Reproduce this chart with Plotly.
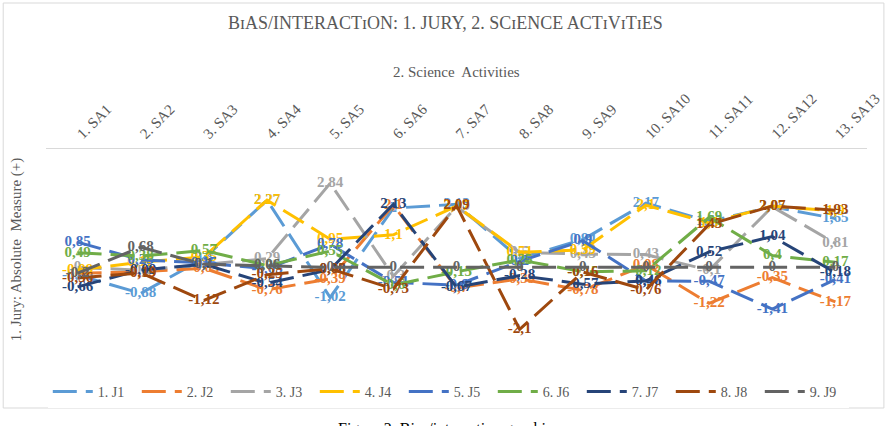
import plotly.graph_objects as go

categories = ["1. SA1", "2. SA2", "3. SA3", "4. SA4", "5. SA5", "6. SA6", "7. SA7",
              "8. SA8", "9. SA9", "10. SA10", "11. SA11", "12. SA12", "13. SA13"]

j1 = [-0.26, -0.88, 0.30, 2.27, -1.02, 2.00, 2.13, 0.30, 0.94, 2.17, 1.55, 2.05, 1.65]
j2 = [-0.20, -0.15, -0.03, -0.76, -0.39, 2.10, -0.70, -0.39, -0.78, 0.08, -1.22, -0.35, -1.17]
j3 = [0.00, -0.10, 0.10, 0.29, 2.84, -0.30, 2.05, 0.50, 0.45, 0.43, -0.10, 2.05, 0.81]
j4 = [-0.09, 0.17, 0.35, 2.27, 0.95, 1.10, 2.07, 0.51, 0.59, 2.10, 1.50, 2.07, 1.90]
j5 = [0.85, 0.25, 0.15, -0.05, 0.78, -0.51, -0.60, 0.20, 0.90, -0.46, -0.47, -1.41, -0.41]
j6 = [0.49, 0.38, 0.57, 0.06, 0.55, -0.60, -0.15, 0.25, -0.15, -0.12, 1.69, 0.40, 0.17]
j7 = [-0.66, -0.09, 0.10, -0.54, -0.08, 2.13, -0.67, -0.28, -0.57, -0.46, 0.52, 1.04, -0.18]
j8 = [-0.36, -0.19, -1.12, -0.25, -0.05, -0.73, 2.09, -2.10, -0.16, -0.76, 1.45, 2.07, 1.93]
j9 = [-0.20, 0.68, 0.10, 0.06, 0.00, 0.00, 0.00, 0.00, 0.00, 0.00, 0.00, 0.00, 0.00]

series_names = ["1. J1", "2. J2", "3. J3", "4. J4", "5. J5", "6. J6", "7. J7", "8. J8", "9. J9"]
series_values = [j1, j2, j3, j4, j5, j6, j7, j8, j9]
colors = ["#5B9BD5", "#ED7D31", "#A5A5A5", "#FFC000", "#4472C4",
          "#70AD47", "#264478", "#9E480E", "#636363"]


def fmt(v):
    s = ("%.2f" % v).rstrip("0").rstrip(".")
    if s in ("-0", ""):
        s = "0"
    return s.replace(".", ",")


SERIF = "Liberation Serif, Times New Roman, serif"
fig = go.Figure()
for name, vals, col in zip(series_names, series_values, colors):
    fig.add_trace(go.Scatter(
        x=categories, y=vals, name=name, mode="lines+text",
        line=dict(color=col, width=3, dash="24px,9px"),
        text=[fmt(v) for v in vals], textposition="middle center",
        textfont=dict(family=SERIF, size=15, color=col, weight="bold"),
        cliponaxis=False,
    ))

# plot area geometry (pixels)
L, R, T, B = 46, 24, 149, 67
W, H = 895, 426
pw, ph = W - L - R, H - T - B


def px(xp):
    return (xp - L) / pw


def py(yp):
    return (H - B - yp) / ph


fig.update_layout(
    width=W, height=H,
    margin=dict(l=L, r=R, t=T, b=B),
    paper_bgcolor="white", plot_bgcolor="white",
    showlegend=True,
    legend=dict(orientation="h", x=0.49, xanchor="center", y=py(392), yanchor="middle",
                font=dict(family=SERIF, size=14, color="#595959"),
                entrywidth=34, entrywidthmode="pixels", itemwidth=40),
    xaxis=dict(side="top", type="category", range=[-0.5, 12.5], showline=True,
               linecolor="#D9D9D9", linewidth=1, ticks="", showgrid=False,
               tickangle=-45, tickfont=dict(family=SERIF, size=15, color="#595959"),
               zeroline=False),
    yaxis=dict(range=[-3.1, 4.0], showticklabels=False, showgrid=False, zeroline=False,
               showline=False, ticks=""),
    annotations=[
        dict(text="B\u026aAS/INTERACT\u026aON: 1. JURY, 2. SC\u026aENCE ACT\u026aV\u026aT\u026aES",
             xref="paper", yref="paper", x=px(447), y=py(23), xanchor="center", yanchor="middle",
             showarrow=False, font=dict(family=SERIF, size=18, color="#595959")),
        dict(text="2. Science  Activities", xref="paper", yref="paper", x=px(459), y=py(72),
             xanchor="center", yanchor="middle", showarrow=False,
             font=dict(family=SERIF, size=15, color="#595959")),
        dict(text="1. Jury: Absolute  Measure (+)", xref="paper", yref="paper", x=px(16), y=py(250),
             xanchor="center", yanchor="middle", textangle=-90, showarrow=False,
             font=dict(family=SERIF, size=15, color="#595959")),
        dict(text="Figure 2. Bias/interaction graphic", xref="paper", yref="paper",
             x=px(447), y=py(418), xanchor="center", yanchor="top", showarrow=False,
             font=dict(family=SERIF, size=16, color="#000000")),
    ],
    shapes=[dict(type="rect", xref="paper", yref="paper", x0=px(3), x1=px(888),
                 y0=py(408), y1=py(3), line=dict(color="#D9D9D9", width=1), layer="below")],
)

fig.write_html("out.html")
